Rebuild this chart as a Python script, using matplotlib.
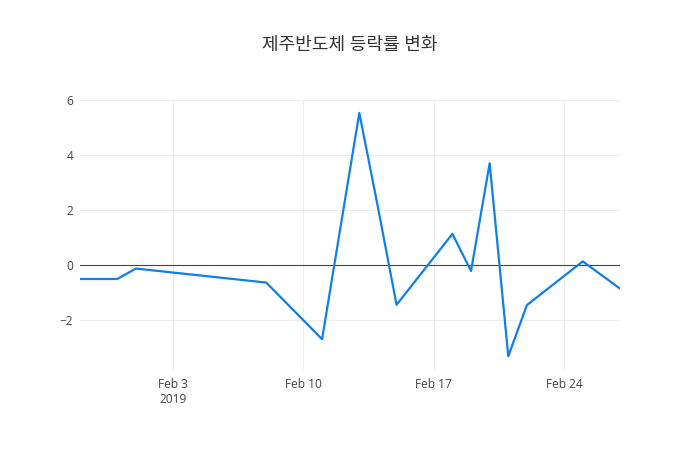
import datetime as dt
import matplotlib
matplotlib.use("Agg")
import matplotlib.pyplot as plt

plt.rcParams['font.family'] = ['Open Sans', 'Noto Sans CJK KR', 'DejaVu Sans']

title = "제주반도체 등락률 변화"
dates = ["2019-01-29", "2019-01-31", "2019-02-01", "2019-02-08", "2019-02-11",
         "2019-02-13", "2019-02-14", "2019-02-15", "2019-02-18", "2019-02-19",
         "2019-02-20", "2019-02-21", "2019-02-22", "2019-02-25", "2019-02-27"]
rates = [-0.51, -0.51, -0.13, -0.64, -2.70, 5.53, 2.1, -1.45, 1.13, -0.22,
         3.70, -3.32, -1.46, 0.13, -0.86]
tick_dates = ["2019-02-03", "2019-02-10", "2019-02-17", "2019-02-24"]
tick_labels = ["Feb 3\n2019", "Feb 10", "Feb 17", "Feb 24"]
y_ticks = [-2, 0, 2, 4, 6]

x = [dt.datetime.strptime(d, "%Y-%m-%d") for d in dates]
xt = [dt.datetime.strptime(d, "%Y-%m-%d") for d in tick_dates]

fig = plt.figure(figsize=(7, 4.5), dpi=100)
ax = fig.add_axes([80/700, 80/450, 540/700, 270/450])

ax.plot(x, rates, color="#117fe8", lw=1.6, zorder=3)
ax.axhline(0, color="#444444", lw=0.8, zorder=2)

ax.set_xlim(x[0], x[-1])
ax.set_ylim(-3.82, 6.0)

ax.set_xticks(xt)
ax.set_xticklabels(tick_labels)
ax.set_yticks(y_ticks)
ax.set_yticklabels([str(v).replace("-", "\u2212") for v in y_ticks])

# light grid like the original
for v in y_ticks:
    if v != 0:
        ax.axhline(v, color="#eeeeee", lw=0.8, zorder=1)
for d in xt:
    ax.axvline(d, color="#eeeeee", lw=0.8, zorder=1)

for s in ax.spines.values():
    s.set_visible(False)
ax.tick_params(length=0, colors="#444444", labelsize=8.6)
ax.tick_params(axis="x", pad=6)
ax.tick_params(axis="y", pad=5)

fig.text(0.5, 1 - 45/450, title, ha="center", va="center",
         fontsize=13, color="#333333")

fig.savefig("out.png", dpi=100, facecolor="white")
